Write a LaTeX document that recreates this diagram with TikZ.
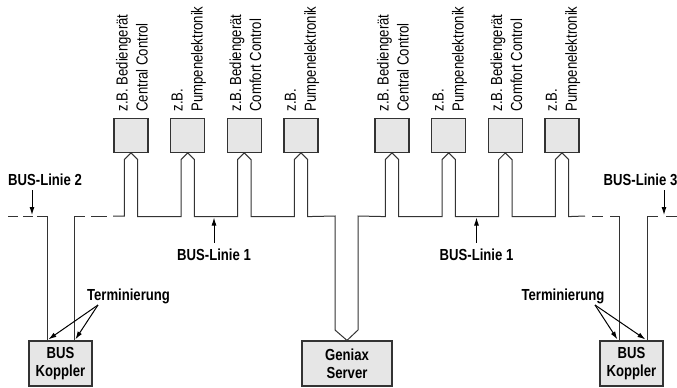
\documentclass[tikz,border=0pt]{standalone}
\usepackage{fontspec}
\setmainfont[FakeStretch=0.82]{Liberation Sans}
\usetikzlibrary{arrows.meta,calc}
\definecolor{boxfill}{HTML}{E6E6E6}
\definecolor{linec}{HTML}{333333}
\begin{document}
\begin{tikzpicture}[x=1pt,y=-1pt,
  dev/.style={draw=linec, line width=1.2pt, fill=boxfill, minimum width=34pt, minimum height=34pt, inner sep=0pt},
  bigbox/.style={draw=linec, line width=1.2pt, fill=boxfill, minimum height=45pt, inner sep=0pt, align=center, font=\bfseries\fontsize{16}{18}\selectfont},
  lab/.style={rotate=90, anchor=west, align=left, inner sep=0pt, font=\fontsize{16}{20}\selectfont},
  boldlab/.style={inner sep=0pt, font=\bfseries\fontsize{16}{19}\selectfont},
  bus/.style={draw=linec, line width=1pt},
  arr/.style={draw=black, line width=1pt, -{Latex[length=8pt,width=5pt]}}]
\useasboundingbox (0,0) rectangle (677,388);

% device boxes
\foreach \cx/\i/\txt in {131/1/{z.B. Bediengerät\\Central Control},
                         187.7/2/{z.B.\\Pumpenelektronik},
                         244.3/3/{z.B. Bediengerät\\Comfort Control},
                         301/4/{z.B.\\Pumpenelektronik},
                         392/5/{z.B. Bediengerät\\Central Control},
                         448.7/6/{z.B.\\Pumpenelektronik},
                         505.3/7/{z.B. Bediengerät\\Comfort Control},
                         562/8/{z.B.\\Pumpenelektronik}}{
  \node[dev] (d\i) at (\cx,135.3) {};
  \node[lab] (l\i) at ($(d\i.north)+(1,-6)$) {\txt};
}

% bottom boxes
\node[bigbox, minimum width=63pt] (k1) at (60.5,363.5) {BUS\\Koppler};
\node[bigbox, minimum width=90pt] (srv) at (347,363.5) {Geniax\\Server};
\node[bigbox, minimum width=63pt] (k2) at (631.5,363.5) {BUS\\Koppler};

% main bus line
\draw[bus] (113,216) -- (124.3,216)
  foreach \i in {1,2,3,4}{
    -- ($(d\i.south)+(-6.7,63.7)$) -- ($(d\i.south)+(-6.7,6.7)$) -- (d\i.south)
    -- ($(d\i.south)+(6.7,6.7)$) -- ($(d\i.south)+(6.7,63.7)$) }
  -- (335,216) -- (335,330) -- (srv.north) -- (358,330) -- (358,216)
  foreach \i in {5,6,7,8}{
    -- ($(d\i.south)+(-6.7,63.7)$) -- ($(d\i.south)+(-6.7,6.7)$) -- (d\i.south)
    -- ($(d\i.south)+(6.7,6.7)$) -- ($(d\i.south)+(6.7,63.7)$) }
  -- (585,216);

% left dashed part and coupler feed
\draw[bus] (8,216) -- (18,216);
\draw[bus] (23,216) -- (33,216);
\draw[bus] (37,216) -- (47,216) -- (k1.north west -| 47,0);
\draw[bus] (k1.north west -| 74,0) -- (74,216) -- (85,216);
\draw[bus] (91,216) -- (107,216);

% right dashed part and coupler feed
\draw[bus] (592,216) -- (603,216);
\draw[bus] (610,216) -- (619,216) -- (k2.north west -| 619,0);
\draw[bus] (k2.north west -| 647,0) -- (647,216) -- (658,216);
\draw[bus] (666,216) -- (677,216);

% labels
\node[boldlab] (n2) at (45,180) {BUS-Linie 2};
\node[boldlab] (n3) at (640.5,180) {BUS-Linie 3};
\node[boldlab] (n1a) at (214,255) {BUS-Linie 1};
\node[boldlab] (n1b) at (476.5,255) {BUS-Linie 1};
\node[boldlab] (t1) at (128.5,296) {Terminierung};
\node[boldlab] (t2) at (563,296) {Terminierung};

\coordinate (b2) at (32,215);
\coordinate (b3) at (664,215);
\coordinate (b1a) at (214,217.5);
\coordinate (b1b) at (476.5,217.5);
\draw[arr] ($(n2.south -| b2)+(0,4)$) -- (b2);
\draw[arr] ($(n3.south -| b3)+(0,4)$) -- (b3);
\draw[arr] ($(n1a.north)+(0,-6)$) -- (b1a);
\draw[arr] ($(n1b.north)+(0,-6)$) -- (b1b);

\coordinate (ts1) at (98,305);
\coordinate (ts2) at (595,305);
\draw[arr] (ts1) -- ($(k1.north west)+(20,-1)$);
\draw[arr] (ts1) -- ($(k1.north west)+(47,-1)$);
\draw[arr] (ts2) -- ($(k2.north west)+(18,-1)$);
\draw[arr] (ts2) -- ($(k2.north west)+(46,-1)$);
\end{tikzpicture}
\end{document}
